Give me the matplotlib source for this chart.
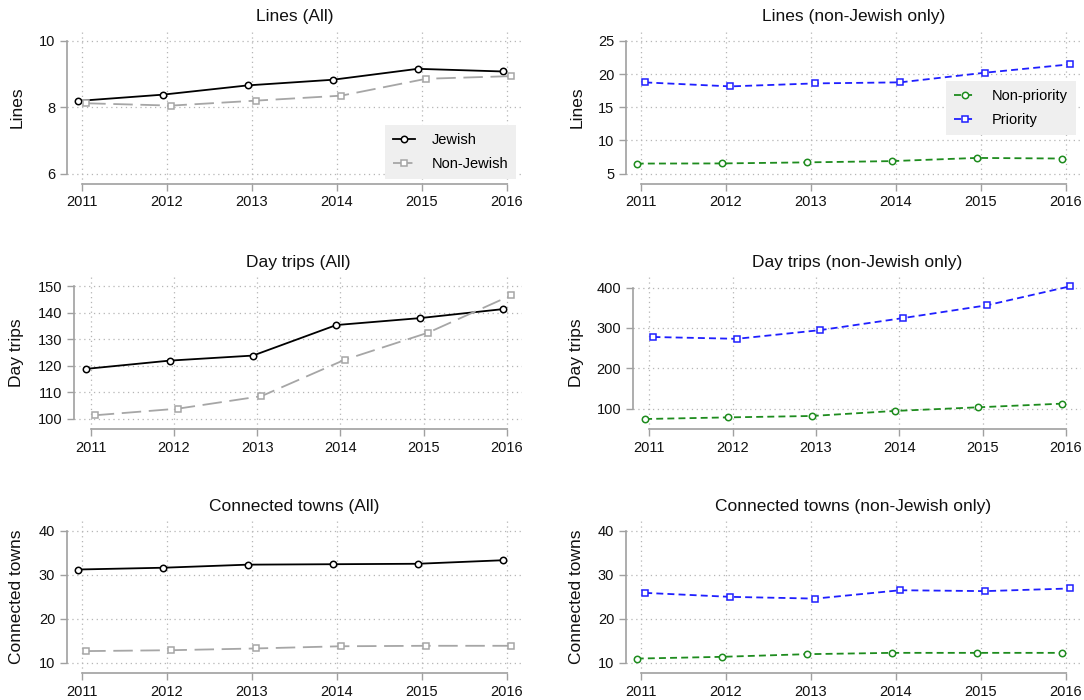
import numpy as np
import matplotlib
matplotlib.use("Agg")
import matplotlib.pyplot as plt

# Fonts and dash handling
plt.rcParams['font.family'] = ['Liberation Sans', 'DejaVu Sans']
plt.rcParams['lines.scale_dashes'] = False

# Data
years = [2011, 2012, 2013, 2014, 2015, 2016]

lines_jewish = [8.19, 8.38, 8.66, 8.83, 9.16, 9.08]
lines_nonjewish = [8.12, 8.05, 8.20, 8.35, 8.86, 8.94]
lines_nonpriority = [6.50, 6.52, 6.68, 6.87, 7.35, 7.26]
lines_priority = [18.75, 18.15, 18.60, 18.76, 20.22, 21.48]

trips_jewish = [118.9, 122.0, 123.9, 135.4, 138.0, 141.4]
trips_nonjewish = [101.4, 103.9, 108.6, 122.3, 132.5, 146.6]
trips_nonpriority = [74.5, 78.5, 82.0, 94.5, 103.5, 112.5]
trips_priority = [277.5, 273.0, 294.5, 324.5, 356.0, 403.0]

towns_jewish = [31.2, 31.6, 32.3, 32.4, 32.5, 33.3]
towns_nonjewish = [12.7, 12.9, 13.3, 13.8, 13.9, 13.9]
towns_nonpriority = [11.0, 11.4, 12.0, 12.3, 12.3, 12.3]
towns_priority = [25.9, 25.0, 24.6, 26.5, 26.3, 26.9]

lines_all_ticks = [6, 8, 10]
lines_nj_ticks = [5, 10, 15, 20, 25]
trips_all_ticks = [100, 110, 120, 130, 140, 150]
trips_nj_ticks = [100, 200, 300, 400]
towns_ticks = [10, 20, 30, 40]

# Line styles
common = dict(lw=1.3, ms=4.6, mew=1.1, mfc='white')
jewish_style = dict(color='black', ls='-', marker='o', label='Jewish', **common)
nonjewish_style = dict(color='#a6a6a6', dashes=(14, 5.5), marker='s', label='Non-Jewish', **common)
nonprio_style = dict(color='#1e8c1e', dashes=(5, 3), marker='o', label='Non-priority', **common)
prio_style = dict(color='#1f1fff', dashes=(5, 3), marker='s', label='Priority', **common)

W, H = 1084, 700
fig = plt.figure(figsize=(W / 100, H / 100), dpi=100)

# row geometry in pixels: top of y range, bottom of y range, x axis line, top of plot region
rows = [(41, 173.5, 184, 31), (286.3, 419, 429.3, 276.3), (530.7, 663, 673.4, 520.5)]
# column geometry: x of 2016 tick, right edge of plot region, y label x
cols = [(507, 522, 16.7), (1066, 1080.7, 576.7)]

panels = [
    # row, col, title, ylabel, series, ticks, spine x, x of 2011
    (0, 0, 'Lines (All)', 'Lines',
     [(lines_jewish, -0.05, jewish_style), (lines_nonjewish, 0.05, nonjewish_style)],
     lines_all_ticks, 66.7, 82),
    (0, 1, 'Lines (non-Jewish only)', 'Lines',
     [(lines_nonpriority, -0.05, nonprio_style), (lines_priority, 0.05, prio_style)],
     lines_nj_ticks, 625.7, 641),
    (1, 0, 'Day trips (All)', 'Day trips',
     [(trips_jewish, -0.05, jewish_style), (trips_nonjewish, 0.05, nonjewish_style)],
     trips_all_ticks, 74, 90.6),
    (1, 1, 'Day trips (non-Jewish only)', 'Day trips',
     [(trips_nonpriority, -0.05, nonprio_style), (trips_priority, 0.05, prio_style)],
     trips_nj_ticks, 632.7, 649.3),
    (2, 0, 'Connected towns (All)', 'Connected towns',
     [(towns_jewish, -0.05, jewish_style), (towns_nonjewish, 0.05, nonjewish_style)],
     towns_ticks, 66.7, 82),
    (2, 1, 'Connected towns (non-Jewish only)', 'Connected towns',
     [(towns_nonpriority, -0.05, nonprio_style), (towns_priority, 0.05, prio_style)],
     towns_ticks, 625.7, 641),
]

axes = []
for r, c, title, ylabel, series, ticks, sx, x0 in panels:
    top, bot, axis_y, grid_top = rows[r]
    x1, gr, ylab_x = cols[c]

    ax = fig.add_axes([sx / W, 1 - axis_y / H, (gr - sx) / W, (axis_y - grid_top) / H])

    # x limits so that 2011/2016 land on the right pixels
    per_x = (x1 - x0) / 5.0
    ax.set_xlim(2011 - (x0 - sx) / per_x, 2016 + (gr - x1) / per_x)

    # y range = ticks joined with data range
    vals = np.concatenate([np.asarray(s[0]) for s in series])
    lo = min(ticks[0], vals.min())
    hi = max(ticks[-1], vals.max())
    per_y = (bot - top) / (hi - lo)
    ax.set_ylim(lo - (axis_y - bot) / per_y, hi + (top - grid_top) / per_y)

    for vals_s, off, style in series:
        ax.plot(np.array(years) + off, vals_s, clip_on=False, zorder=3, **style)

    ax.set_xticks(years)
    ax.set_yticks(ticks)
    ax.set_axisbelow(True)
    ax.grid(True, color='#b5b5b5', lw=0.9, ls=(0, (0.9, 2.6)))

    for side in ['top', 'right']:
        ax.spines[side].set_visible(False)
    for side in ['left', 'bottom']:
        ax.spines[side].set_color('#a0a0a0')
        ax.spines[side].set_linewidth(1.2)
    ax.spines['left'].set_bounds(ticks[0], ticks[-1])
    ax.spines['bottom'].set_bounds(2011, 2016)
    ax.tick_params(direction='out', length=4.8, width=1.0, color='#a0a0a0',
                   labelsize=10.5, pad=3.4, labelcolor='#111111')

    # title and y label placed in pixel coords
    fig.text((sx + gr) / 2 / W, 1 - (top - 24) / H, title, ha='center', va='center',
             fontsize=12.5, color='#111111')
    fig.text(ylab_x / W, 1 - (top + bot) / 2 / H, ylabel, ha='center', va='center',
             rotation=90, fontsize=12.5, color='#111111')
    axes.append(ax)

# legends
leg_kw = dict(loc='upper right', bbox_transform=fig.transFigure, borderaxespad=0,
              fontsize=10.5, handlelength=1.5, handletextpad=1.1, borderpad=0.55,
              labelspacing=0.7, fancybox=False, framealpha=1, facecolor='#efefef',
              edgecolor='none')
axes[0].legend(bbox_to_anchor=(516 / W, 1 - 125 / H), **leg_kw)
axes[1].legend(bbox_to_anchor=(1075.7 / W, 1 - 81 / H), **leg_kw)

plt.savefig("out.png", dpi=100)
